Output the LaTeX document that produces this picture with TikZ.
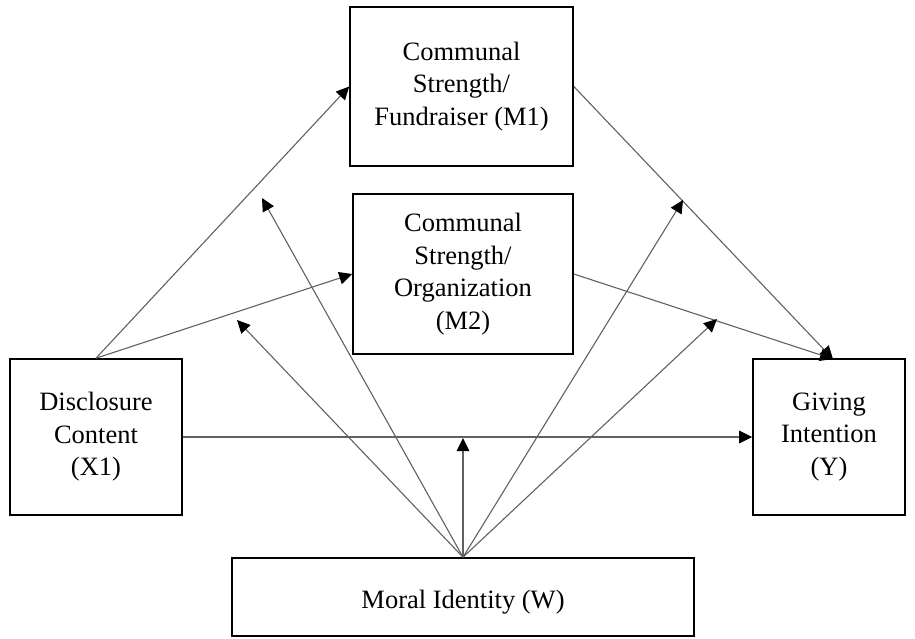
\documentclass[tikz,border=0pt]{standalone}
\usepackage{fontspec}
\setmainfont{Liberation Serif}
\usetikzlibrary{arrows.meta}
\begin{document}
\begin{tikzpicture}[x=1pt,y=-1pt,
  box/.style={draw=black,line width=1.6pt,align=center,inner sep=0pt,
    font=\fontsize{26.5}{32.5}\selectfont},
  conn/.style={draw=black!62,line width=1.1pt,-{Triangle[length=13pt,width=12.5pt,color=black]}}]
\useasboundingbox (0,0) rectangle (915,639);
\node[box,minimum width=223pt,minimum height=159pt] (M1) at (461.5,86.5) {Communal\\Strength/\\Fundraiser (M1)};
\node[box,minimum width=220pt,minimum height=160pt] (M2) at (463,274) {Communal\\Strength/\\Organization\\(M2)};
\node[box,minimum width=172pt,minimum height=156pt] (X) at (96,437) {Disclosure\\Content\\(X1)};
\node[box,minimum width=152pt,minimum height=156pt] (Y) at (829,437) {Giving\\Intention\\(Y)};
\node[box,minimum width=462pt,minimum height=78pt] (W) at (463,597) {\raisebox{-11pt}[0pt][0pt]{Moral Identity (W)}};
\coordinate (yt) at (833,359);
\coordinate (t1) at (262,198);
\coordinate (t2) at (237,320);
\coordinate (t3) at (463,438);
\coordinate (t4) at (683,200);
\coordinate (t5) at (717,319);
\draw[conn] (X.north) -- (M1.west);
\draw[conn] (X.north) -- (M2.west);
\draw[conn] (X.east) -- (Y.west);
\draw[conn] (M1.east) -- (yt);
\draw[conn] (M2.east) -- (yt);
\foreach \t in {t1,t2,t3,t4,t5} \draw[conn] (W.north) -- (\t);
\end{tikzpicture}
\end{document}
